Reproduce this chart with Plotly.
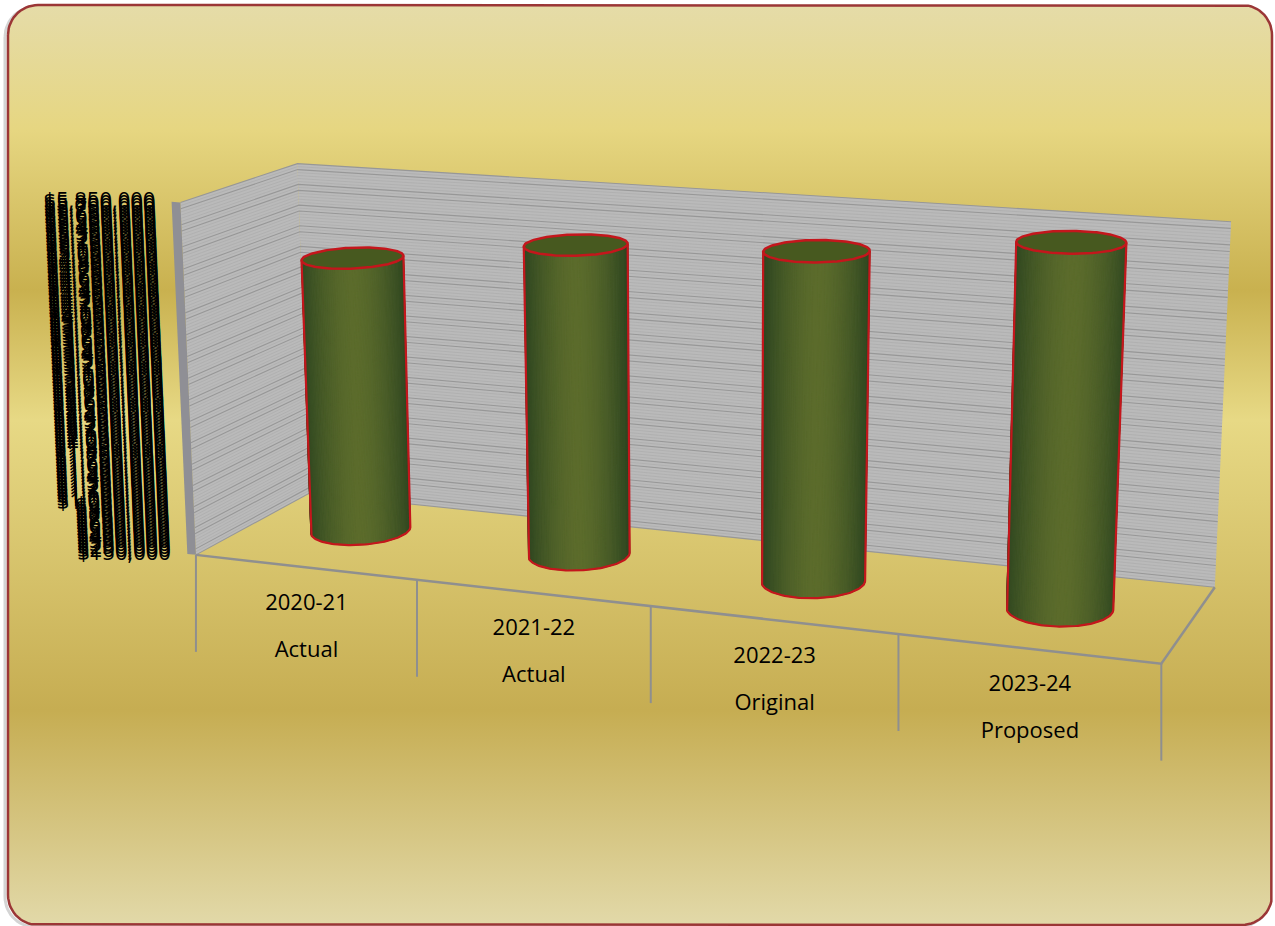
import numpy as np
import plotly.graph_objects as go

# ---- data ----
years = ["2020-21", "2021-22", "2022-23", "2023-24"]
stages = ["Actual", "Actual", "Original", "Proposed"]
values = [4690000, 5170000, 5350000, 5750000]
axis_min = 150000
axis_max = 5850000
axis_step = 50000

# ---- style / layout ----
W, H = 1275, 926
BG_STOPS = [(0, "#e5dcaa"), (130, "#e6d681"), (290, "#c9b14f"), (420, "#e7d985"), (710, "#c6ad52"), (926, "#e2d9a9")]
WALL = "#bababa"
GRID_FAINT = "#acacac"
GRID_DARK = "#979797"
EDGE = "#8f8f8f"
RED = "#c4161c"
FONT = "Open Sans"
FS = 22

# projection of the 3-D chart box (category, depth, axis fraction) onto the page
ANCHORS = [
    ((0, 0, 0), (195, 552)), ((1, 0, 0), (416, 579)), ((2, 0, 0), (651, 606)),
    ((3, 0, 0), (899, 634)), ((4, 0, 0), (1162, 665)), ((0, 1, 0), (310, 497)),
    ((4, 1, 0), (1214, 586)), ((0, 0, 1), (181, 205)), ((0, 1, 1), (297, 161)),
    ((4, 1, 1), (1231, 222)),
]
A, b = [], []
for (X, Y, Z), (sx, sy) in ANCHORS:
    A.append([X, Y, Z, 1, 0, 0, 0, 0, -sx * X, -sx * Y, -sx * Z]); b.append(sx)
    A.append([0, 0, 0, 0, X, Y, Z, 1, -sy * X, -sy * Y, -sy * Z]); b.append(sy)
p = np.linalg.lstsq(np.array(A, float), np.array(b, float), rcond=None)[0]
P = np.append(p, 1).reshape(3, 4)


def proj(u, d, v):
    z = (np.asarray(v, float) - axis_min) / (axis_max - axis_min)
    u, d, z = np.broadcast_arrays(np.asarray(u, float), np.asarray(d, float), z)
    q = np.stack([u, d, z, np.ones_like(z)])
    s = P @ q.reshape(4, -1)
    return (s[0] / s[2]).reshape(u.shape), (s[1] / s[2]).reshape(u.shape)


def poly(x, y, **kw):
    return go.Scatter(x=list(x), y=list(y), mode="lines", hoverinfo="skip", showlegend=False, **kw)


fig = go.Figure()

# page card
rx0, ry0, rx1, ry1, rr = 8, 5, 1272, 925, 30
a = np.linspace(0, np.pi / 2, 16)
cx = np.r_[rx0 + rr - rr * np.cos(a), rx1 - rr + rr * np.sin(a), rx1 - rr + rr * np.cos(a), rx0 + rr - rr * np.sin(a), rx0]
cy = np.r_[ry0 + rr - rr * np.sin(a), ry0 + rr - rr * np.cos(a), ry1 - rr + rr * np.sin(a), ry1 - rr + rr * np.cos(a), ry0 + rr]
fig.add_trace(poly(cx - 3, cy + 2, line=dict(color="#d4d4d4", width=3)))
fig.add_trace(poly(cx, cy, line=dict(color="#9b3636", width=2.5), fill="toself",
                   fillgradient=dict(type="vertical", start=0, stop=H,
                                     colorscale=[[y / H, c] for y, c in BG_STOPS])))

# walls
ticks = np.arange(axis_min, axis_max + 1, axis_step)
x, y = proj([0, 0, 0, 0, 0], [0, 1, 1, 0, 0], [axis_min, axis_min, axis_max, axis_max, axis_min])
fig.add_trace(poly(x, y, fill="toself", fillcolor=WALL, line=dict(width=0)))
x, y = proj([0, 4, 4, 0, 0], [1, 1, 1, 1, 1], [axis_min, axis_min, axis_max, axis_max, axis_min])
fig.add_trace(poly(x, y, fill="toself", fillcolor=WALL, line=dict(width=0)))
faint_x, faint_y, dark_x, dark_y = [], [], [], []
for n, t in enumerate(ticks):
    x, y = proj([0, 0, 4], [0, 1, 1], [t, t, t])
    if (3 * n * n + n) % 7 < 2:
        dark_x += list(x) + [None]
        dark_y += list(y) + [None]
    else:
        faint_x += list(x) + [None]
        faint_y += list(y) + [None]
fig.add_trace(poly(faint_x, faint_y, line=dict(color=GRID_FAINT, width=0.7)))
fig.add_trace(poly(dark_x, dark_y, line=dict(color=GRID_DARK, width=1.1)))
# wall thickness strip
x, y = proj([-0.04, 0, 0, -0.04, -0.04], [0, 0, 0, 0, 0], [axis_min, axis_min, axis_max, axis_max, axis_min])
fig.add_trace(poly(x, y, fill="toself", fillcolor="#8f8f95", line=dict(width=0)))

# floor edges and category separators
x, y = proj([0, 4, 4], [0, 0, 1], [axis_min] * 3)
fig.add_trace(poly(x, y, line=dict(color=EDGE, width=2.5)))
for i in range(5):
    x, y = proj(i, 0, axis_min)
    fig.add_trace(poly([x, x], [y, y + 97], line=dict(color=EDGE, width=2)))

# cylinders
RU, RD = 0.203, 0.23
DEPTHS = [0.565, 0.55, 0.53, 0.52]
U_SHIFTS = [-0.03, -0.028, -0.012, -0.007]
SEG = 144
dark, light = np.array([44, 68, 32]), np.array([92, 108, 44])
th = np.linspace(0, 2 * np.pi, SEG + 1)
for i, v in enumerate(values):
    uc = i + 0.5 + U_SHIFTS[i]
    dc = DEPTHS[i]
    bx, by = proj(uc + RU * np.cos(th), dc + RD * np.sin(th), axis_min)
    tx, ty = proj(uc + RU * np.cos(th), dc + RD * np.sin(th), v)
    lo, hi = min(bx.min(), tx.min()), max(bx.max(), tx.max())
    # orientation of the strip that faces the viewer
    def area(k):
        qx = [bx[k], bx[k + 1], tx[k + 1], tx[k]]
        qy = [by[k], by[k + 1], ty[k + 1], ty[k]]
        return sum(qx[j] * qy[(j + 1) % 4] - qx[(j + 1) % 4] * qy[j] for j in range(4))
    sign = np.sign(area(3 * SEG // 4))
    front = [k for k in range(SEG) if np.sign(area(k)) == sign]
    for k in front:
        t = ((bx[k] + tx[k]) / 2 - lo) / (hi - lo)
        mix = np.clip(1 - abs(2 * t - 1) ** 1.6, 0, 1)
        c = dark + (light - dark) * mix
        col = "rgb(%d,%d,%d)" % tuple(c)
        fig.add_trace(poly([bx[k], bx[k + 1], tx[k + 1], tx[k], bx[k]],
                           [by[k], by[k + 1], ty[k + 1], ty[k], by[k]],
                           fill="toself", fillcolor=col, line=dict(color=col, width=1)))
    fig.add_trace(poly(tx, ty, fill="toself", fillcolor="#47591f", line=dict(color=RED, width=2.5)))
    # outline: visible arc of the base plus the two sides
    ordered = sorted(front, key=lambda k: bx[k])
    ex = [tx[ordered[0]]] + [bx[k] for k in ordered] + [tx[ordered[-1]]]
    ey = [ty[ordered[0]]] + [by[k] for k in ordered] + [ty[ordered[-1]]]
    fig.add_trace(poly(ex, ey, line=dict(color=RED, width=2.2)))

# value labels
lx, ly = proj(0, 0, ticks)
fig.add_trace(go.Scatter(x=list(lx - 25), y=list(ly), mode="text", text=[f"${t:,}" for t in ticks],
                         textposition="middle left", textfont=dict(family=FONT, size=FS, color="#000000"),
                         hoverinfo="skip", showlegend=False))

# category labels
mx, my = [], []
for i in range(4):
    x0, y0 = proj(i, 0, axis_min)
    x1, y1 = proj(i + 1, 0, axis_min)
    mx.append((x0 + x1) / 2)
    my.append((y0 + y1) / 2)
mx, my = np.array(mx, float), np.array(my, float)
fig.add_trace(go.Scatter(x=list(mx), y=list(my + 37), mode="text", text=years, textposition="middle center",
                         textfont=dict(family=FONT, size=FS, color="#000000"), hoverinfo="skip", showlegend=False))
fig.add_trace(go.Scatter(x=list(mx), y=list(my + 84), mode="text", text=stages, textposition="middle center",
                         textfont=dict(family=FONT, size=FS, color="#000000"), hoverinfo="skip", showlegend=False))

fig.update_layout(width=W, height=H, margin=dict(l=0, r=0, t=0, b=0), paper_bgcolor="#ffffff", plot_bgcolor="rgba(0,0,0,0)",
                  showlegend=False,
                  xaxis=dict(range=[0, W], visible=False, fixedrange=True),
                  yaxis=dict(range=[H, 0], visible=False, fixedrange=True))
fig.write_html("out.html", post_script="document.body.style.margin='0';document.body.style.overflow='hidden';",
               config={"displayModeBar": False})
